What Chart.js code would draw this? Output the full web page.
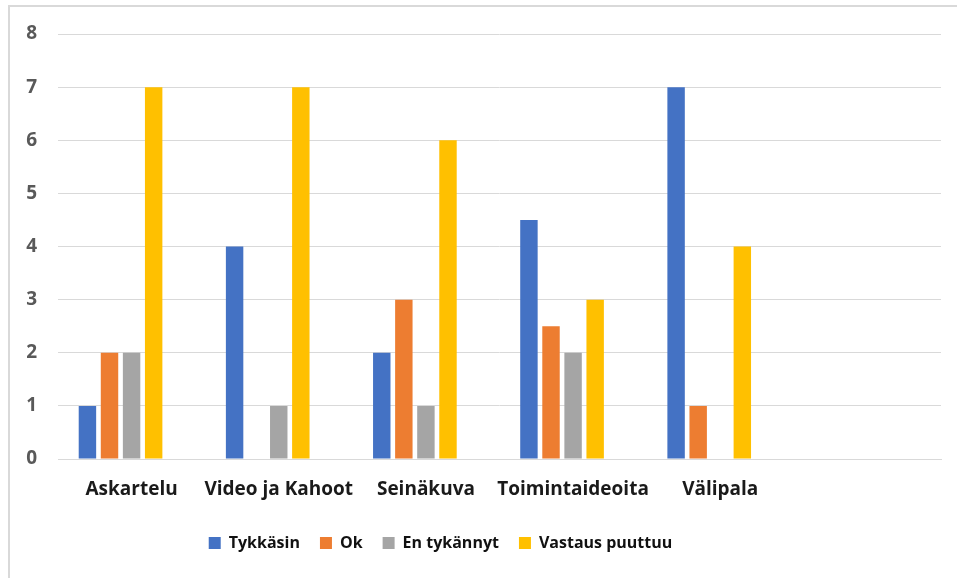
<!DOCTYPE html>
<html>
<head>
<meta charset="utf-8">
<script src="https://cdn.jsdelivr.net/npm/chart.js@4/dist/chart.umd.min.js"></script>
<style>
  html, body { margin: 0; padding: 0; background: #fff; }
  #wrap { position: relative; width: 957px; height: 578px; }
  #frame { position: absolute; left: 8px; top: 5px; width: 960px; height: 600px;
           border-left: 2px solid #d9d9d9; border-top: 2px solid #d9d9d9; box-sizing: border-box; }
  canvas { position: absolute; left: 0; top: 0; }
</style>
</head>
<body>
<div id="wrap">
  <div id="frame"></div>
  <canvas id="c" width="957" height="578"></canvas>
</div>
<script>
const categories = ['Askartelu', 'Video ja Kahoot', 'Seinäkuva', 'Toimintaideoita', 'Välipala', ''];
const tykkasin = [1, 4, 2, 4.5, 7, null];
const ok = [2, 0, 3, 2.5, 1, null];
const enTykannyt = [2, 1, 1, 2, 0, null];
const vastausPuuttuu = [7, 7, 6, 3, 4, null];
const emptySeries = [null, null, null, null, null, null];
const yTicks = [0, 1, 2, 3, 4, 5, 6, 7, 8];

const legendShift = {
  id: 'legendShift',
  afterLayout(chart) {
    const lg = chart.legend;
    if (lg) { lg.left -= 30; lg.right -= 30; }
  }
};

const ctx = document.getElementById('c').getContext('2d');
new Chart(ctx, {
  type: 'bar',
  plugins: [legendShift],
  data: {
    labels: categories,
    datasets: [
      { label: 'Tykkäsin', data: tykkasin, backgroundColor: '#4472C4' },
      { label: 'Ok', data: ok, backgroundColor: '#ED7D31' },
      { label: 'En tykännyt', data: enTykannyt, backgroundColor: '#A5A5A5' },
      { label: 'Vastaus puuttuu', data: vastausPuuttuu, backgroundColor: '#FFC000' },
      { label: '', data: emptySeries, backgroundColor: 'rgba(0,0,0,0)' }
    ]
  },
  options: {
    responsive: false,
    animation: false,
    devicePixelRatio: 1,
    layout: { padding: { left: 0, right: 16, top: 34, bottom: 17 } },
    datasets: { bar: { categoryPercentage: 0.75, barPercentage: 0.79 } },
    plugins: {
      tooltip: { enabled: false },
      legend: {
        position: 'bottom',
        labels: {
          filter: (item) => item.text !== '',
          boxWidth: 12, boxHeight: 12, padding: 20,
          color: '#111',
          font: { family: 'Open Sans', size: 16, weight: 'bold' }
        }
      }
    },
    scales: {
      x: {
        grid: { display: false, drawTicks: false },
        border: { display: true, color: '#d9d9d9', width: 1 },
        ticks: {
          color: '#1a1a1a', padding: 19, maxRotation: 0, autoSkip: false,
          font: { family: 'Open Sans', size: 19, weight: 'bold' }
        },
        afterFit: (s) => { s.height = 56; }
      },
      y: {
        min: 0, max: 8,
        afterBuildTicks: (s) => { s.ticks = yTicks.map(v => ({ value: v })); },
        grid: { color: '#d9d9d9', lineWidth: 1, drawTicks: false },
        border: { display: false },
        ticks: {
          color: '#595959', padding: 21,
          font: { family: 'Open Sans', size: 19, weight: 'bold' }
        },
        afterFit: (s) => { s.width = 58; }
      }
    }
  }
});
</script>
</body>
</html>
